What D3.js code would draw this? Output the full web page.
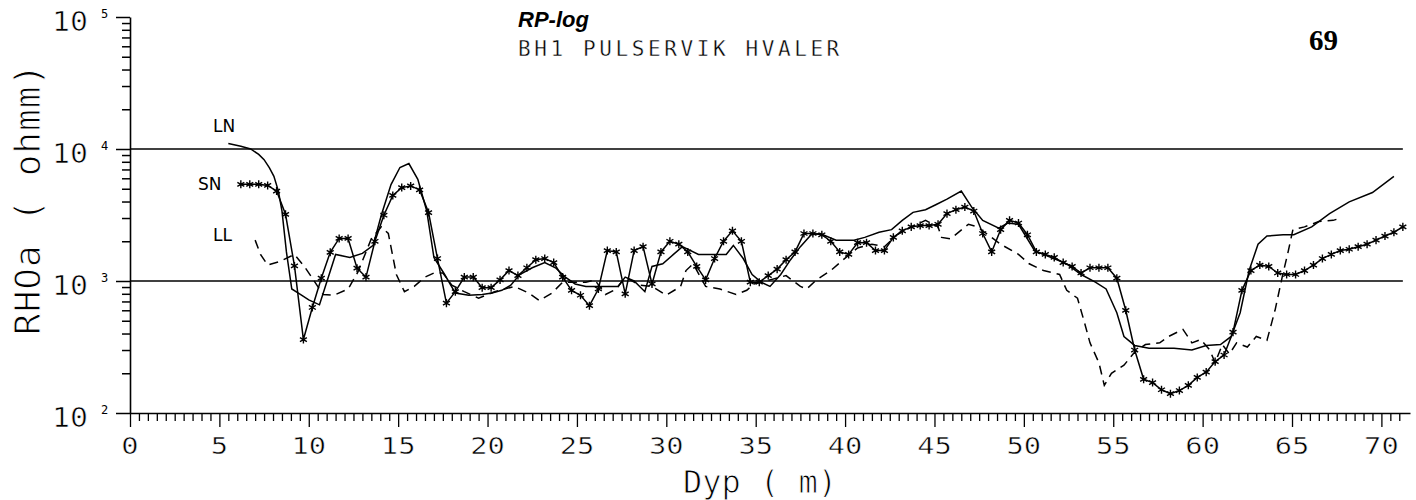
<!DOCTYPE html>
<html>
<head>
<meta charset="utf-8">
<script src="https://cdn.jsdelivr.net/npm/d3@7"></script>
<style>
  body { margin: 0; background: #fff; }
  svg { display: block; }
  text { fill: #000; }
  .plot { font-family: "DejaVu Sans Mono", monospace; stroke: #fff; paint-order: normal; }
</style>
</head>
<body>
<div id="chart"></div>
<script>
// RP-log, BH1 Pulservik Hvaler - tilsynelatende resistivitet (ohmm) mot dyp (m)

// SN: sampling hver 0.5 m fra 6.2 m
const snStart = 6.2;
const snStep = 0.5;
const snRho = [
  5400, 5400, 5400, 5300, 4800, 3200, 1300, 360, 630, 1050,
  1650, 2100, 2100, 1250, 1070, 2000, 3150, 4450, 5100, 5250,
  4900, 3300, 1480, 680, 830, 1070, 1070, 890, 890, 1020,
  1200, 1100, 1260, 1450, 1480, 1380, 1070, 850, 780, 650,
  870, 1700, 1660, 800, 1700, 1820, 950, 1660, 2000, 1900,
  1660, 1290, 1020, 1480, 2000, 2400, 2000, 980, 980, 1100,
  1230, 1450, 1660, 2290, 2290, 2240, 2000, 1660, 1590, 1950,
  1950, 1700, 1700, 2140, 2400, 2570, 2630, 2630, 2690, 3240,
  3470, 3630, 3390, 2290, 1660, 2450, 2880, 2750, 2240, 1660,
  1590, 1510, 1380, 1290, 1150, 1260, 1260, 1260, 1050, 600,
  300, 180, 170, 150, 140, 148, 162, 186, 204, 245,
  275, 410, 850, 1200, 1320, 1290, 1150, 1120, 1120, 1200,
  1320, 1480, 1590, 1700, 1740, 1820, 1900, 2040, 2190, 2340, 2570
];

// LN
const lnDepth = [
  5.5, 6.2, 6.75, 7.2, 7.5, 7.8, 8.05, 8.3, 8.5, 8.75,
  9.05, 9.55, 10.0, 10.6, 11.5, 12.3, 13.0, 13.6, 14.06, 14.6,
  15.1, 15.6, 16.1, 16.6, 17.0, 17.6, 18.2, 18.95, 19.7, 20.25,
  20.8, 21.3, 21.8, 22.5, 23.2, 23.8, 24.35, 24.9, 25.5, 26.4,
  27.3, 27.7, 28.2, 28.8, 29.2, 29.8, 30.4, 30.9, 31.8, 32.6,
  33.35, 33.75, 34.3, 34.8, 35.3, 35.8, 36.4, 36.95, 37.5, 38.1,
  38.6, 39.5, 40.5, 41.1, 41.9, 42.6, 43.2, 43.8, 44.5, 45.1,
  45.7, 46.5, 47.1, 47.7, 48.6, 49.1, 49.7, 50.6, 51.5, 52.4,
  53.2, 54.0, 54.6, 55.2, 55.6, 56.2, 57.0, 58.4, 59.4, 60.2,
  61.0, 61.6, 62.1, 62.6, 63.1, 63.6, 64.5, 65.1, 66.1, 67.1,
  68.2, 69.5, 70.7
];
const lnRho = [
  11000, 10500, 10000, 9100, 8300, 7200, 6200, 4800, 3400, 1660,
  870, 790, 720, 660, 1590, 1510, 1620, 1860, 3160, 5370,
  7240, 7760, 5890, 3390, 1510, 1120, 810, 780, 790, 810,
  850, 930, 1120, 1260, 1380, 1260, 1070, 950, 910, 910,
  910, 1070, 1000, 830, 1290, 1350, 1590, 1820, 1590, 1590,
  1590, 1860, 1480, 1120, 980, 910, 1120, 1450, 1820, 2240,
  2290, 2040, 2040, 2140, 2340, 2450, 2880, 3310, 3470, 3800,
  4170, 4800, 3600, 2880, 2510, 2750, 2690, 1700, 1510, 1350,
  1120, 980, 870, 575, 380, 325, 310, 310, 300, 325,
  330, 380, 575, 1200, 1900, 2190, 2240, 2240, 2570, 3240,
  3980, 4680, 6200
];

// LL
const llDepth = [
  7.0, 7.3, 7.7, 8.4, 9.2, 9.75, 10.2, 10.8, 11.4, 12.2,
  12.75, 13.5, 14.06, 14.45, 14.9, 15.35, 15.9, 16.5, 17.0, 17.5,
  18.0, 18.7, 19.5, 20.4, 21.5, 22.3, 22.9, 23.6, 24.2, 25.5,
  26.0, 26.6, 27.2, 27.7, 28.5, 29.2, 30.0, 30.8, 31.1, 31.5,
  32.2, 33.0, 33.9, 34.5, 34.9, 35.8, 36.7, 37.5, 37.85, 38.4,
  39.2, 39.9, 40.7, 41.5, 42.2, 42.9, 43.7, 44.5, 45.2, 45.4,
  45.9, 46.9, 47.4, 47.9, 48.7, 49.7, 50.3, 51.1, 52.0, 52.4,
  53.0, 53.4, 53.7, 54.2, 54.5, 54.9, 55.6, 56.2, 56.8, 57.6,
  58.1, 58.9, 59.4, 59.9, 60.4, 60.7, 61.1, 61.5, 61.9, 62.5,
  63.0, 63.6, 64.05, 64.45, 64.75, 65.05, 65.7, 66.5, 67.3, 67.8
];
const llRho = [
  2040, 1590, 1320, 1410, 1590, 1290, 1050, 790, 780, 870,
  1170, 2090, 2570, 2290, 1120, 830, 910, 1070, 1150, 1150,
  930, 830, 740, 830, 910, 810, 710, 810, 980, 980,
  1020, 790, 870, 1070, 930, 910, 780, 910, 1200, 1350,
  910, 870, 790, 850, 950, 1020, 1100, 910, 870, 1020,
  1200, 1450, 1780, 1900, 1820, 2240, 2570, 2880, 2570, 2140,
  2090, 2690, 2570, 2290, 1900, 1590, 1350, 1200, 1120, 850,
  740, 480, 340, 240, 162, 200, 230, 290, 330, 340,
  380, 430, 340, 360, 300, 240, 330, 280, 340, 316,
  380, 355, 600, 1070, 1590, 2450, 2570, 2820, 2880, 3020
];

const yTickExp = [2, 3, 4, 5];
const xTickLabels = [0, 5, 10, 15, 20, 25, 30, 35, 40, 45, 50, 55, 60, 65, 70];
const refLevels = [1000, 10000];

const width = 1416;
const height = 500;

const x = d3.scaleLinear().domain([0, 71.6]).range([130, 1410]);
const y = d3.scaleLog().domain([100, 100000]).range([413, 17]);

const svg = d3.select('#chart')
  .append('svg')
  .attr('width', width)
  .attr('height', height);

// y-akse
const yTicks = [];
yTickExp.forEach(e => {
  if (e < 5) for (let m = 1; m < 10; m++) yTicks.push(m * Math.pow(10, e));
  else yTicks.push(Math.pow(10, e));
});
svg.append('g')
  .attr('transform', `translate(${x(0)},0)`)
  .call(d3.axisLeft(y).tickValues(yTicks).tickSizeOuter(0).tickFormat(''))
  .call(g => g.select('.domain').attr('stroke-width', 1.6))
  .call(g => g.selectAll('.tick line')
    .attr('x2', d => Math.abs(Math.log10(d) % 1) < 1e-9 ? -14 : -8)
    .attr('stroke-width', 1.5));

// x-akse
const xTicks = d3.range(0, 143).map(i => i * 0.5);
svg.append('g')
  .attr('transform', `translate(0,${y(100)})`)
  .call(d3.axisBottom(x).tickValues(xTicks).tickSizeOuter(0).tickFormat(''))
  .call(g => g.select('.domain').attr('stroke-width', 1.6))
  .call(g => g.selectAll('.tick line')
    .attr('y2', d => d % 5 === 0 ? 14 : 8)
    .attr('stroke-width', 1.3));

// tick-tekster x
svg.append('g').selectAll('text')
  .data(xTickLabels)
  .join('text')
  .attr('class', 'plot')
  .attr('transform', d => `translate(${x(d)},454) scale(1.25,1)`)
  .attr('text-anchor', 'middle')
  .style('font-size', '23px')
  .style('stroke-width', '0.5px')
  .text(d => d);

// tick-tekster y
const yLab = svg.append('g').selectAll('g')
  .data(yTickExp)
  .join('g');
yLab.append('text')
  .attr('class', 'plot')
  .attr('transform', d => `translate(88,${y(Math.pow(10, d)) + 14}) scale(1.15,1)`)
  .attr('text-anchor', 'end')
  .style('font-size', '26px')
  .style('stroke-width', '0.6px')
  .text('10');
yLab.append('text')
  .attr('x', 101)
  .attr('y', d => y(Math.pow(10, d)) + 1)
  .style('font-family', '"DejaVu Sans Mono", monospace')
  .style('font-size', '12px')
  .text(d => d);

// referanselinjer
svg.append('g').selectAll('line')
  .data(refLevels)
  .join('line')
  .attr('x1', x(0))
  .attr('x2', x(71.2))
  .attr('y1', d => y(d))
  .attr('y2', d => y(d))
  .attr('stroke', '#000')
  .attr('stroke-width', 1.6);

// kurver
const line = d3.line()
  .x(d => x(d[0]))
  .y(d => y(d[1]));

const sn = snRho.map((v, i) => [snStart + i * snStep, v]);
const ln = lnDepth.map((d, i) => [d, lnRho[i]]);
const ll = llDepth.map((d, i) => [d, llRho[i]]);

svg.append('path')
  .datum(ln)
  .attr('d', line)
  .attr('fill', 'none')
  .attr('stroke', '#000')
  .attr('stroke-width', 1.5);

svg.append('path')
  .datum(ll)
  .attr('d', line)
  .attr('fill', 'none')
  .attr('stroke', '#000')
  .attr('stroke-width', 1.5)
  .attr('stroke-dasharray', '9,6');

svg.append('path')
  .datum(sn)
  .attr('d', line)
  .attr('fill', 'none')
  .attr('stroke', '#000')
  .attr('stroke-width', 1.5);

svg.append('g').selectAll('path')
  .data(sn)
  .join('path')
  .attr('transform', d => `translate(${x(d[0])},${y(d[1])})`)
  .attr('d', d3.symbol(d3.symbolAsterisk, 45))
  .attr('fill', 'none')
  .attr('stroke', '#000')
  .attr('stroke-width', 1.4);

// kurvenavn
const names = [
  { t: 'LN', px: 213, py: 132 },
  { t: 'SN', px: 198, py: 190 },
  { t: 'LL', px: 213, py: 241 }
];
svg.append('g').selectAll('text')
  .data(names)
  .join('text')
  .attr('x', d => d.px)
  .attr('y', d => d.py)
  .style('font-family', '"DejaVu Sans", sans-serif')
  .style('font-size', '17px')
  .text(d => d.t);

// aksetitler
svg.append('text')
  .attr('class', 'plot')
  .attr('transform', 'translate(40,199) rotate(-90)')
  .attr('text-anchor', 'middle')
  .style('font-size', '36px')
  .style('letter-spacing', '1px')
  .style('stroke-width', '1px')
  .text('RHOa ( ohmm)');

svg.append('text')
  .attr('class', 'plot')
  .attr('x', 760)
  .attr('y', 493)
  .attr('text-anchor', 'middle')
  .style('font-size', '32px')
  .style('stroke-width', '0.9px')
  .text('Dyp ( m)');

// titler
svg.append('text')
  .attr('x', 518)
  .attr('y', 27)
  .style('font-family', '"Liberation Sans", Arial, sans-serif')
  .style('font-weight', 'bold')
  .style('font-style', 'italic')
  .style('font-size', '22px')
  .text('RP-log');

svg.append('text')
  .attr('class', 'plot')
  .attr('x', 518)
  .attr('y', 56)
  .style('font-size', '21px')
  .style('letter-spacing', '3.6px')
  .style('stroke-width', '0.4px')
  .text('BH1 PULSERVIK HVALER');

svg.append('text')
  .attr('x', 1309)
  .attr('y', 50)
  .style('font-family', '"Liberation Serif", "Times New Roman", serif')
  .style('font-weight', 'bold')
  .style('font-size', '29px')
  .text('69');
</script>
</body>
</html>
